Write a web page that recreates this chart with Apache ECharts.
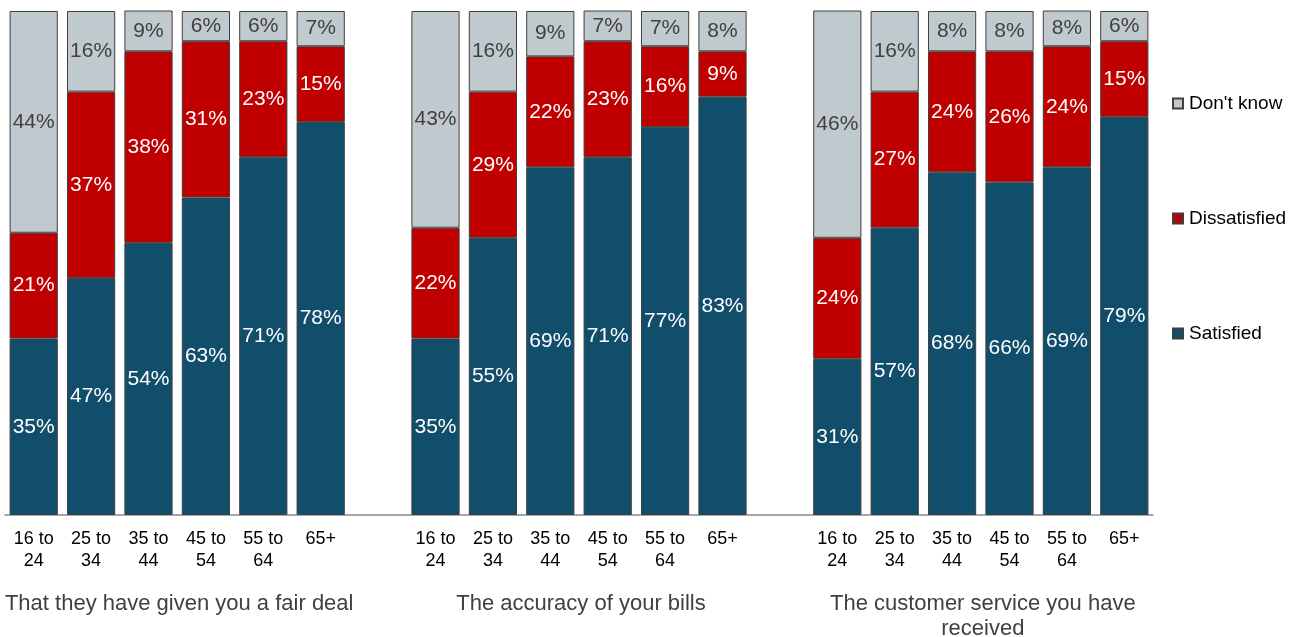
<!DOCTYPE html>
<html>
<head>
<meta charset="utf-8">
<script src="https://cdn.jsdelivr.net/npm/echarts@6/dist/echarts.min.js"></script>
<style>
  html, body { margin: 0; padding: 0; background: #fff; }
  #chart { width: 1297px; height: 637px; }
</style>
</head>
<body>
<div id="chart"></div>
<script>
// Age bands shown under each bar
const ageBands = ['16 to\n24', '25 to\n34', '35 to\n44', '45 to\n54', '55 to\n64', '65+'];
// Panel titles, one per group of bars
const groupTitles = ['That they have given you a fair deal', 'The accuracy of your bills', 'The customer service you have\nreceived'];

// Percentages per group (fair deal, accuracy of bills, customer service)
const satisfied = [
  [35, 47, 54, 63, 71, 78],
  [35, 55, 69, 71, 77, 83],
  [31, 57, 68, 66, 69, 79]
];
const dissatisfied = [
  [21, 37, 38, 31, 23, 15],
  [22, 29, 22, 23, 16, 9],
  [24, 27, 24, 26, 24, 15]
];
const dontKnow = [
  [44, 16, 9, 6, 6, 7],
  [43, 16, 9, 7, 7, 8],
  [46, 16, 8, 8, 8, 6]
];

// Flatten groups into one category axis with an empty slot between groups
function flatCats() {
  const out = [];
  groupTitles.forEach((_, g) => {
    if (g > 0) out.push('');
    ageBands.forEach(a => out.push(a));
  });
  return out;
}
function flatVals(groups) {
  const out = [];
  groups.forEach((arr, g) => {
    if (g > 0) out.push('-');
    arr.forEach(v => out.push(v));
  });
  return out;
}

const categories = flatCats();
const chart = echarts.init(document.getElementById('chart'));
const font = 'Liberation Sans, Arial, sans-serif';
const border = { borderColor: '#3f3f3f', borderWidth: 1 };

function mkSeries(name, groups, color, labelColor) {
  return {
    name: name,
    type: 'bar',
    stack: 'total',
    barCategoryGap: '16%',
    clip: true,
    data: flatVals(groups),
    itemStyle: Object.assign({ color: color }, border),
    label: {
      show: true,
      position: 'inside',
      formatter: p => p.value + '%',
      color: labelColor,
      fontFamily: font,
      fontSize: 21
    }
  };
}

chart.setOption({
  animation: false,
  backgroundColor: '#ffffff',
  grid: { left: 5, right: 144, top: 11, bottom: 122, containLabel: false },
  xAxis: {
    type: 'category',
    data: categories,
    axisLine: { lineStyle: { color: '#8a8a8a', width: 1.5 } },
    axisTick: { show: false },
    axisLabel: {
      interval: 0,
      margin: 13,
      color: '#000',
      fontFamily: font,
      fontSize: 18,
      lineHeight: 22
    }
  },
  yAxis: {
    type: 'value',
    min: 0,
    max: 100,
    show: false,
    splitLine: { show: false }
  },
  legend: {
    orient: 'vertical',
    left: 1167,
    top: 89,
    itemGap: 96,
    itemWidth: 10,
    itemHeight: 10,
    icon: 'rect',
    textStyle: { color: '#000', fontFamily: font, fontSize: 19, padding: [0, 0, 0, 1] },
    data: ["Don't know", 'Dissatisfied', 'Satisfied']
  },
  series: [
    mkSeries('Satisfied', satisfied, '#104e6b', '#ffffff'),
    mkSeries('Dissatisfied', dissatisfied, '#c00000', '#ffffff'),
    mkSeries("Don't know", dontKnow, '#c0c9ce', '#404040')
  ]
});

// Group titles centred under each group of six bars
const graphics = groupTitles.map((t, g) => {
  const first = g * (ageBands.length + 1);
  const last = first + ageBands.length - 1;
  const x0 = chart.convertToPixel({ xAxisIndex: 0 }, first);
  const x1 = chart.convertToPixel({ xAxisIndex: 0 }, last);
  return {
    type: 'text',
    x: (x0 + x1) / 2 + 2,
    y: 591,
    style: {
      text: t,
      fill: '#404040',
      font: '22px ' + font,
      align: 'center',
      verticalAlign: 'top',
      lineHeight: 25
    }
  };
});
chart.setOption({ graphic: graphics });
</script>
</body>
</html>
